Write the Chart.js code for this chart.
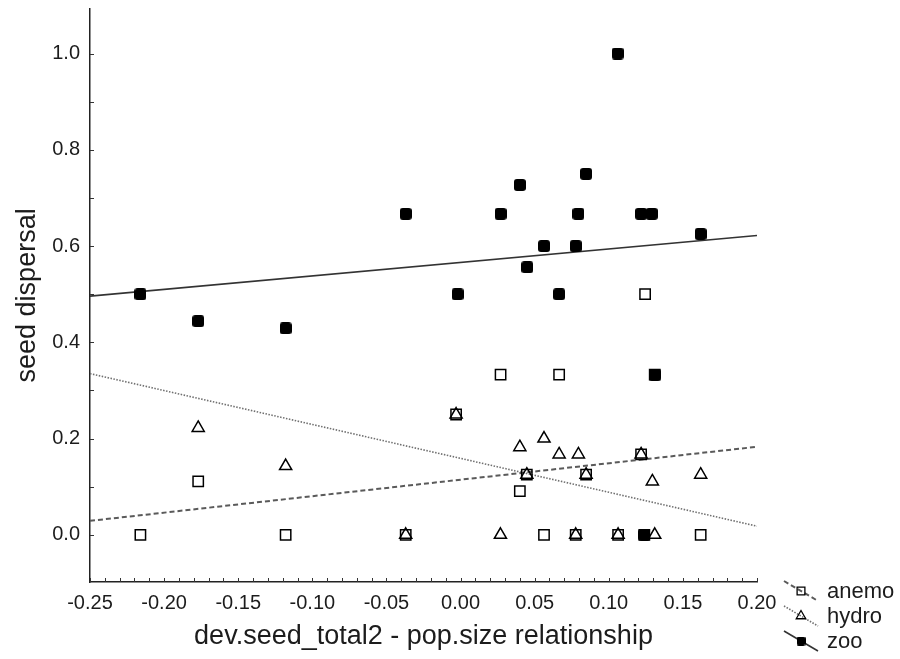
<!DOCTYPE html>
<html lang="en">
<head>
<meta charset="UTF-8">
<title>seed dispersal</title>
<script src="https://cdn.jsdelivr.net/npm/chart.js"></script>
<style>
    body { margin: 0; background: #fff; }
    #wrap { width: 900px; height: 659px; }
</style>
</head>
<body>
<div id="wrap"><canvas id="chart" width="900" height="659"></canvas></div>
<script>
// one point per population, x = dev.seed_total2 slope, y = share of species per dispersal mode
const anemoX = [-0.216, -0.177, -0.118, -0.037, -0.003, 0.027, 0.0665, 0.1245, 0.040, 0.0447, 0.0847, 0.1218, 0.0563, 0.0777, 0.1063, 0.162, 0.131, 0.124];
const anemoY = [0, 0.111, 0, 0, 0.25, 0.333, 0.333, 0.5, 0.091, 0.125, 0.125, 0.167, 0, 0, 0, 0, 0.333, 0];

const hydroX = [-0.177, -0.118, -0.037, -0.003, 0.040, 0.0563, 0.0665, 0.0795, 0.0447, 0.0847, 0.1218, 0.1294, 0.162, 0.0269, 0.0777, 0.1063, 0.131];
const hydroY = [0.222, 0.143, 0, 0.25, 0.182, 0.2, 0.167, 0.167, 0.125, 0.125, 0.167, 0.111, 0.125, 0, 0, 0, 0];

const zooX = [-0.216, -0.177, -0.118, -0.037, -0.002, 0.027, 0.040, 0.045, 0.0563, 0.0665, 0.0777, 0.0795, 0.0847, 0.106, 0.1218, 0.129, 0.162, 0.131, 0.124];
const zooY = [0.5, 0.444, 0.429, 0.667, 0.5, 0.667, 0.727, 0.556, 0.6, 0.5, 0.6, 0.667, 0.75, 1.0, 0.667, 0.667, 0.625, 0.333, 0];

// linear fits, values at both ends of the x range
const fitX = [-0.25, 0.20];
const anemoFit = [0.029, 0.183];
const hydroFit = [0.335, 0.018];
const zooFit = [0.496, 0.622];

const xTicks = [-0.25, -0.20, -0.15, -0.10, -0.05, 0.00, 0.05, 0.10, 0.15, 0.20];
const yTicks = [0.0, 0.2, 0.4, 0.6, 0.8, 1.0];

const FONT = "'Liberation Sans', Arial, sans-serif";
const TEXT = '#1c1c1c';

const toPoints = (xs, ys) => xs.map((x, i) => ({ x: x, y: ys[i] }));

// filled square with slightly rounded corners, used as the zoo marker
function roundedSquare(size, r) {
    const c = document.createElement('canvas');
    c.width = size;
    c.height = size;
    const g = c.getContext('2d');
    g.fillStyle = '#000';
    g.beginPath();
    g.roundRect(0, 0, size, size, r);
    g.fill();
    return c;
}
const zooMark = roundedSquare(12, 3);
const zooMarkSmall = roundedSquare(9, 2);

const styles = {
    anemo: { line: '#5a5a5a', dash: [5, 3], width: 2, point: 'rect', fill: 'rgba(0,0,0,0)', radius: 7.3, border: 1.5 },
    hydro: { line: '#707070', dash: [1.5, 1.5], width: 1.6, point: 'triangle', fill: 'rgba(0,0,0,0)', radius: 7, border: 1.5 },
    zoo:   { line: '#333', dash: [], width: 1.6, point: zooMark, fill: '#000', radius: 6, border: 0 }
};

// small inward ticks on both axes (minor every 0.01 on x, every 0.1 on y)
const axisTicks = {
    id: 'axisTicks',
    afterDraw(chart) {
        const { ctx, chartArea, scales } = chart;
        ctx.save();
        ctx.strokeStyle = '#333';
        ctx.lineWidth = 1;
        for (let i = -25; i <= 20; i++) {
            const px = Math.round(scales.x.getPixelForValue(i / 100)) + 0.5;
            ctx.beginPath();
            ctx.moveTo(px, chartArea.bottom);
            ctx.lineTo(px, chartArea.bottom - 4);
            ctx.stroke();
        }
        for (let i = 0; i <= 10; i++) {
            const py = Math.round(scales.y.getPixelForValue(i / 10)) + 0.5;
            ctx.beginPath();
            ctx.moveTo(chartArea.left, py);
            ctx.lineTo(chartArea.left + 4, py);
            ctx.stroke();
        }
        ctx.restore();
    }
};

// legend in the lower right corner: slanted line sample with its marker
const slantLegend = {
    id: 'slantLegend',
    afterDraw(chart) {
        const ctx = chart.ctx;
        const names = ['anemo', 'hydro', 'zoo'];
        ctx.save();
        names.forEach((name, i) => {
            const s = styles[name];
            const y0 = 581 + i * 25;
            ctx.strokeStyle = s.line;
            ctx.lineWidth = s.width;
            ctx.setLineDash(s.dash);
            ctx.beginPath();
            ctx.moveTo(784, y0);
            ctx.lineTo(818, y0 + 20);
            ctx.stroke();
            ctx.setLineDash([]);
            if (name === 'zoo') {
                ctx.drawImage(zooMarkSmall, 801 - 4.5, y0 + 10 - 4.5);
            } else {
                ctx.strokeStyle = '#000';
                ctx.fillStyle = 'rgba(0,0,0,0)';
                ctx.lineWidth = 1.3;
                Chart.helpers.drawPoint(ctx, { pointStyle: s.point, radius: 5.5, rotation: 0, borderWidth: 1.3 }, 801, y0 + 10);
            }
            ctx.fillStyle = TEXT;
            ctx.font = '22px ' + FONT;
            ctx.textBaseline = 'middle';
            ctx.textAlign = 'left';
            ctx.fillText(name, 827, y0 + 11);
        });
        ctx.restore();
    }
};

function scatterSet(name, xs, ys) {
    const s = styles[name];
    return {
        type: 'scatter',
        label: name,
        data: toPoints(xs, ys),
        pointStyle: s.point,
        pointRadius: s.radius,
        pointBorderWidth: s.border,
        pointBorderColor: '#000',
        pointBackgroundColor: s.fill,
        order: 1
    };
}

function fitSet(name, ys) {
    const s = styles[name];
    return {
        type: 'line',
        label: name + ' fit',
        data: toPoints(fitX, ys),
        borderColor: s.line,
        borderWidth: s.width,
        borderDash: s.dash,
        pointRadius: 0,
        fill: false,
        order: 5
    };
}

new Chart(document.getElementById('chart'), {
    data: {
        datasets: [
            fitSet('anemo', anemoFit),
            fitSet('hydro', hydroFit),
            fitSet('zoo', zooFit),
            scatterSet('anemo', anemoX, anemoY),
            scatterSet('hydro', hydroX, hydroY),
            scatterSet('zoo', zooX, zooY)
        ]
    },
    options: {
        responsive: false,
        animation: false,
        events: [],
        layout: { padding: { top: 5, right: 143, left: 0, bottom: 0 } },
        plugins: {
            legend: { display: false },
            tooltip: { enabled: false }
        },
        scales: {
            x: {
                type: 'linear',
                min: -0.25,
                max: 0.20,
                afterBuildTicks: (s) => { s.ticks = xTicks.map(v => ({ value: v })); },
                afterFit: (s) => { s.height = 77; s.paddingLeft = 0; s.paddingRight = 0; },
                ticks: {
                    callback: (v) => v.toFixed(2),
                    font: { family: FONT, size: 20 },
                    color: TEXT,
                    padding: 9,
                    maxRotation: 0,
                    autoSkip: false
                },
                grid: { display: false, drawTicks: false },
                border: { display: true, color: '#222', width: 1.5 },
                title: {
                    display: true,
                    text: 'dev.seed_total2 - pop.size relationship',
                    font: { family: FONT, size: 27 },
                    color: TEXT,
                    padding: { top: 0, bottom: 6 }
                }
            },
            y: {
                type: 'linear',
                min: -0.098,
                max: 1.093,
                afterBuildTicks: (s) => { s.ticks = yTicks.map(v => ({ value: v })); },
                afterFit: (s) => { s.width = 90; s.paddingTop = 0; s.paddingBottom = 0; },
                ticks: {
                    callback: (v) => v.toFixed(1),
                    font: { family: FONT, size: 20 },
                    color: TEXT,
                    padding: 10
                },
                grid: { display: false, drawTicks: false },
                border: { display: true, color: '#222', width: 1.5 },
                title: {
                    display: true,
                    text: 'seed dispersal',
                    font: { family: FONT, size: 27 },
                    color: TEXT,
                    padding: { top: 11, bottom: 0 }
                }
            }
        }
    },
    plugins: [axisTicks, slantLegend]
});
</script>
</body>
</html>
